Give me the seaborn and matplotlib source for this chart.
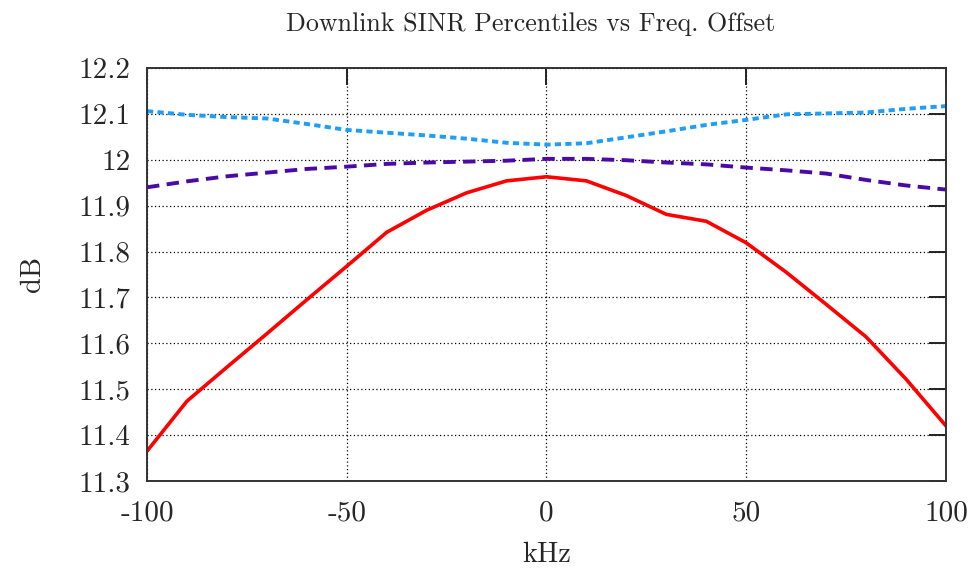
import matplotlib
matplotlib.use("Agg")
import matplotlib.pyplot as plt
import seaborn as sns
import pandas as pd

freq_khz = [-100, -90, -80, -70, -60, -50, -40, -30, -20, -10, 0,
            10, 20, 30, 40, 50, 60, 70, 80, 90, 100]
sinr_red = [11.365, 11.474, 11.548, 11.621, 11.695, 11.768, 11.842, 11.890, 11.928, 11.954, 11.963,
            11.954, 11.922, 11.881, 11.866, 11.819, 11.755, 11.685, 11.614, 11.522, 11.420]
sinr_purple = [11.940, 11.953, 11.964, 11.972, 11.980, 11.985, 11.991, 11.994, 11.996, 11.998, 12.002,
               12.002, 11.999, 11.994, 11.990, 11.983, 11.977, 11.970, 11.956, 11.944, 11.935]
sinr_blue = [12.106, 12.098, 12.093, 12.090, 12.078, 12.065, 12.059, 12.053, 12.046, 12.037, 12.033,
             12.036, 12.049, 12.062, 12.076, 12.087, 12.099, 12.101, 12.103, 12.111, 12.117]

x_ticks = [-100, -50, 0, 50, 100]
x_tick_labels = ["-100", "-50", "0", "50", "100"]
y_ticks = [11.3, 11.4, 11.5, 11.6, 11.7, 11.8, 11.9, 12.0, 12.1, 12.2]
y_tick_labels = ["11.3", "11.4", "11.5", "11.6", "11.7", "11.8", "11.9", "12", "12.1", "12.2"]

title = "Downlink SINR Percentiles vs Freq. Offset"
x_label = "kHz"
y_label = "dB"

sns.set_theme(style="white")
plt.rcParams["font.family"] = ["cmr10", "DejaVu Serif"]
plt.rcParams["axes.unicode_minus"] = False
plt.rcParams["mathtext.fontset"] = "cm"

df = pd.DataFrame({"kHz": freq_khz, "red": sinr_red, "purple": sinr_purple, "blue": sinr_blue})

fig = plt.figure(figsize=(9.7, 5.68), dpi=100)
ax = fig.add_axes([147 / 970, 1 - 481 / 568, (946 - 147) / 970, (481 - 68) / 568])

sns.lineplot(data=df, x="kHz", y="red", ax=ax, color="#ff0000", linewidth=2.6)
sns.lineplot(data=df, x="kHz", y="purple", ax=ax, color="#4b0aa6", linewidth=2.8)
sns.lineplot(data=df, x="kHz", y="blue", ax=ax, color="#1e9ef8", linewidth=2.8)
lines = ax.get_lines()
lines[1].set_dashes([3.2, 1.9])
lines[2].set_dashes([1.6, 1.1])

ax.set_xlim(-100, 100)
ax.set_ylim(11.3, 12.2)
ax.set_xticks(x_ticks)
ax.set_xticklabels(x_tick_labels)
ax.set_yticks(y_ticks)
ax.set_yticklabels(y_tick_labels)

ax.grid(True, color="black", linestyle=(0, (1, 2)), linewidth=0.9)
ax.tick_params(axis="both", which="major", direction="in", length=12, width=1.4,
               top=True, right=True, labelsize=21, color="#222222")
ax.tick_params(axis="x", pad=14)
ax.tick_params(axis="y", pad=12)
for s in ax.spines.values():
    s.set_color("#333333")
    s.set_linewidth(1.4)

ax.set_title(title, fontsize=18.7, pad=27, x=(530.5 - 147) / 799)
ax.set_xlabel(x_label, fontsize=20.5, labelpad=11)
ax.set_ylabel(y_label, fontsize=20.5, labelpad=23)

fig.savefig("out.png", dpi=100)
